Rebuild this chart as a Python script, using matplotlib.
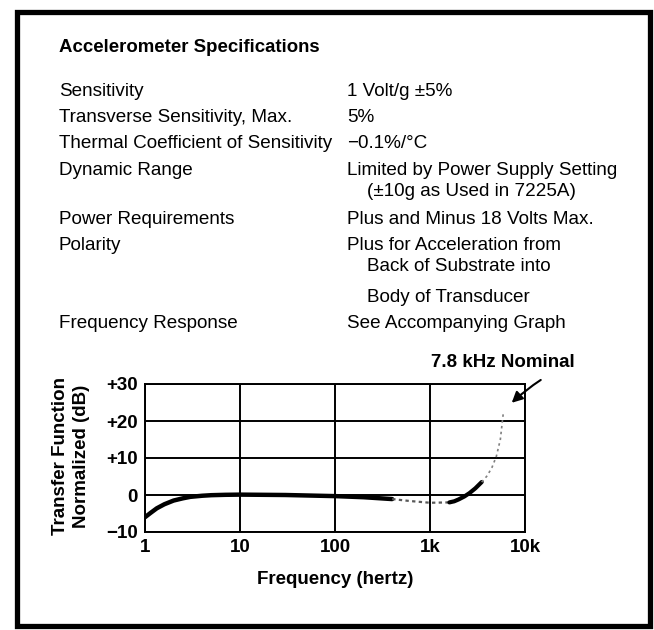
"""Accelerometer spec sheet with frequency response plot."""

import matplotlib.pyplot as plt
from matplotlib.patches import Rectangle

# spec table
title = "Accelerometer Specifications"
spec_labels = [
    "Sensitivity",
    "Transverse Sensitivity, Max.",
    "Thermal Coefficient of Sensitivity",
    "Dynamic Range",
    "Power Requirements",
    "Polarity",
    "Frequency Response",
]
spec_values = [
    ["1 Volt/g \u00b15%"],
    ["5%"],
    ["\u22120.1%/\u00b0C"],
    ["Limited by Power Supply Setting", "(\u00b110g as Used in 7225A)"],
    ["Plus and Minus 18 Volts Max."],
    ["Plus for Acceleration from", "Back of Substrate into", "Body of Transducer"],
    ["See Accompanying Graph"],
]

# frequency response
freq_hz = [1, 1.15, 1.33, 1.6, 2, 2.5, 3, 4, 5, 7, 10, 30, 100, 200, 400,
           600, 1000, 1600, 1800, 2000, 2300, 2600, 3000, 3500, 4000, 4500,
           5000, 5500, 5900]
gain_db = [-6.0, -4.8, -3.6, -2.5, -1.5, -0.9, -0.5, -0.2, -0.05, 0.05, 0.1,
           0.0, -0.3, -0.6, -1.1, -1.6, -2.1, -2.0, -1.7, -1.2, -0.4, 0.5,
           1.8, 3.5, 5.2, 7.5, 10.5, 15.0, 22.0]
x_ticks = [1, 10, 100, 1000, 10000]
x_ticklabels = ["1", "10", "100", "1k", "10k"]
y_ticks = [-10, 0, 10, 20, 30]
y_ticklabels = ["\u221210", "0", "+10", "+20", "+30"]
resonance_label = "7.8 kHz Nominal"

W, H = 654, 630
plt.rcParams["font.family"] = ["Liberation Sans", "DejaVu Sans"]


def fx(px):
    return px / W


def fy(py):
    return 1 - py / H


fig = plt.figure(figsize=(W / 100, H / 100), dpi=100)

# scanned page frame
fig.patches.append(Rectangle((fx(17), fy(626)), fx(650) - fx(17), fy(12) - fy(626),
                             transform=fig.transFigure, fill=False,
                             edgecolor="black", linewidth=3.8))

fig.text(fx(59), fy(48), title, fontsize=13.4, fontweight="bold", va="center")

row_y = [92, 118, 144, 171, 219, 246, 324]
sub_y = {3: [192], 5: [266, 297]}
for i, (label, vals) in enumerate(zip(spec_labels, spec_values)):
    fig.text(fx(59), fy(row_y[i]), label, fontsize=13.6, va="center")
    fig.text(fx(347), fy(row_y[i]), vals[0], fontsize=13.6, va="center")
    for line, y in zip(vals[1:], sub_y.get(i, [])):
        fig.text(fx(367), fy(y), line, fontsize=13.6, va="center")

ax = fig.add_axes([fx(145), fy(532), fx(525) - fx(145), fy(384) - fy(532)])
ax.set_xscale("log")
ax.set_xlim(1, 10000)
ax.set_ylim(-10, 30)

# curve: heavy where the print is solid, dotted where it fades
segments = [
    (0, 15, dict(color="black", lw=3.2, ls="-")),
    (14, 18, dict(color="0.35", lw=1.6, ls=(0, (1.5, 1.5)))),
    (17, 24, dict(color="black", lw=3.0, ls="-")),
    (23, 29, dict(color="0.5", lw=1.2, ls=(0, (1.5, 2.0)))),
]
for a, b, style in segments:
    ax.plot(freq_hz[a:b], gain_db[a:b], solid_capstyle="round",
            solid_joinstyle="round", **style)

ax.set_xticks(x_ticks)
ax.set_xticklabels(x_ticklabels)
ax.set_yticks(y_ticks)
ax.set_yticklabels(y_ticklabels)
ax.minorticks_off()
ax.tick_params(length=0, pad=5, labelsize=13.5)
for lab in ax.get_xticklabels() + ax.get_yticklabels():
    lab.set_fontweight("bold")
ax.grid(True, color="black", linewidth=1.4)
ax.set_axisbelow(True)
for sp in ax.spines.values():
    sp.set_linewidth(1.4)

fig.text(fx(335), fy(580), "Frequency (hertz)", fontsize=13.5, fontweight="bold",
         ha="center", va="center")
fig.text(fx(71), fy(456), "Transfer Function\nNormalized (dB)", fontsize=13.5,
         fontweight="bold", rotation=90, ha="center", va="center", linespacing=1.25)

fig.text(fx(503), fy(363), resonance_label, fontsize=13.5, fontweight="bold",
         ha="center", va="center")
ax.annotate("", xy=(6900, 24.4), xytext=(15500, 31.5), annotation_clip=False,
            arrowprops=dict(arrowstyle="-|>", color="black", lw=1.5,
                            mutation_scale=16, connectionstyle="arc3,rad=0.05"))

fig.savefig("out.png", dpi=100)
